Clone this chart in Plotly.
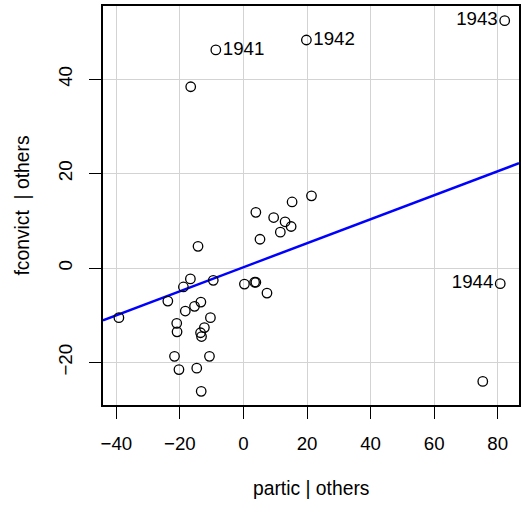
import plotly.graph_objects as go

# Added-variable plot data: partic | others (x), fconvict | others (y)
partic_resid = [-16.6, -8.7, 19.8, 82.2, 80.8, 75.3,
                21.4, 15.3, 3.9, 9.5, 13.1, 15.0, 11.6, 5.2,
                0.3, 3.5, 3.9, 7.4,
                -39.2, -14.3, -16.7, -18.9, -9.5,
                -23.8, -18.3, -15.4, -13.4, -10.4, -21.0, -20.9,
                -12.3, -13.5, -13.2, -21.7, -10.7, -20.3, -14.7, -13.3]
fconvict_resid = [38.4, 46.2, 48.3, 52.4, -3.3, -24.0,
                  15.3, 14.0, 11.8, 10.7, 9.8, 8.8, 7.6, 6.1,
                  -3.4, -3.0, -3.0, -5.3,
                  -10.5, 4.6, -2.3, -4.0, -2.6,
                  -7.0, -9.1, -8.1, -7.2, -10.5, -11.7, -13.5,
                  -12.6, -13.7, -14.5, -18.7, -18.7, -21.5, -21.2, -26.1]
point_labels = ["", "1941", "1942", "1943", "1944", ""] + [""] * 32
label_side = ["middle right", "middle right", "middle right", "middle left",
              "middle left", "middle right"] + ["middle right"] * 32

fit_slope = 0.254
fit_intercept = 0.18

x_ticks = [-40, -20, 0, 20, 40, 60, 80]
y_ticks = [-20, 0, 20, 40]
x_range = [-44.2, 86.7]
y_range = [-29.0, 55.5]

FONT = "Liberation Sans, Arial, Helvetica, sans-serif"
FS = 18.7
FS_TITLE = 19.3

fig = go.Figure()

line_x = [x_range[0], x_range[1]]
line_y = [fit_intercept + fit_slope * v for v in line_x]
fig.add_trace(go.Scatter(x=line_x, y=line_y, mode="lines",
                         line=dict(color="#0000FF", width=2.5),
                         hoverinfo="skip", showlegend=False))

fig.add_trace(go.Scatter(
    x=partic_resid, y=fconvict_resid, mode="markers+text",
    text=point_labels, textposition=label_side,
    textfont=dict(family=FONT, size=FS, color="black"),
    marker=dict(symbol="circle-open", size=9.5, color="black",
                line=dict(width=1.3, color="black")),
    showlegend=False))

axis_common = dict(
    showgrid=True, gridcolor="#d3d3d3", gridwidth=1,
    zeroline=False, showline=True, mirror=True,
    linecolor="black", linewidth=1.6,
    ticks="outside", ticklen=12, tickwidth=1, tickcolor="black",
    tickfont=dict(family=FONT, size=FS, color="black"),
)

fig.update_xaxes(range=x_range, tickmode="array", tickvals=x_ticks,
                 ticktext=[("\u2212" + str(-v)) if v < 0 else str(v) for v in x_ticks],
                 ticklabelstandoff=9, **axis_common)
fig.update_yaxes(range=y_range, tickmode="array", tickvals=y_ticks,
                 ticktext=[("\u2212" + str(-v)) if v < 0 else str(v) for v in y_ticks],
                 tickangle=-90, ticklabelstandoff=10, **axis_common)

fig.update_layout(
    width=521, height=508,
    margin=dict(l=103, r=2, t=6, b=103, autoexpand=False),
    plot_bgcolor="white", paper_bgcolor="white",
    font=dict(family=FONT, size=FS, color="black"),
    annotations=[
        dict(text="partic | others", xref="paper", yref="paper",
             x=0.5, y=0, yshift=-83, xanchor="center", yanchor="middle",
             showarrow=False, font=dict(family=FONT, size=FS_TITLE, color="black")),
        dict(text="fconvict  | others", xref="paper", yref="paper",
             x=0, y=0.5, xshift=-81, xanchor="center", yanchor="middle",
             textangle=-90, showarrow=False,
             font=dict(family=FONT, size=FS_TITLE, color="black")),
    ],
)

fig.write_html("out.html",
               config={"displayModeBar": False},
               post_script="document.body.style.margin='0';document.body.style.overflow='hidden';")
